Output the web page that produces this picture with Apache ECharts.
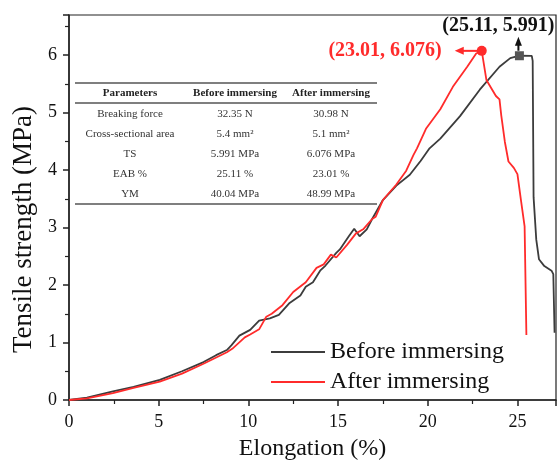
<!DOCTYPE html>
<html>
<head>
<meta charset="utf-8">
<script src="https://cdn.jsdelivr.net/npm/echarts@6/dist/echarts.min.js"></script>
<style>
  html, body { margin: 0; padding: 0; background: #fff; }
  #chart { width: 558px; height: 466px; }
</style>
</head>
<body>
<div id="chart"></div>
<script>
// Stress–strain curves of the film before and after immersion
const seriesNames = ['Before immersing', 'After immersing'];

// [elongation %, tensile strength MPa]
const beforeCurve = [
  [0, 0], [1, 0.04], [2.45, 0.15], [3.6, 0.23], [5.06, 0.35], [6.3, 0.5], [7.5, 0.66],
  [8.2, 0.78], [8.8, 0.87], [9.05, 0.95], [9.5, 1.12], [10.1, 1.22], [10.6, 1.38],
  [11.2, 1.42], [11.7, 1.48], [12.3, 1.69], [12.9, 1.82], [13.2, 1.97], [13.6, 2.05],
  [14.0, 2.25], [14.3, 2.34], [14.9, 2.56], [15.1, 2.62], [15.6, 2.85], [15.9, 2.98],
  [16.2, 2.85], [16.6, 2.97], [16.9, 3.15], [17.5, 3.48], [18.25, 3.73], [19.0, 3.92],
  [19.6, 4.16], [20.1, 4.38], [20.7, 4.55], [21.8, 4.94], [22.9, 5.4], [24.0, 5.8],
  [24.6, 5.95], [25.11, 5.991], [25.8, 5.99], [25.85, 5.9], [25.9, 3.53], [26.05, 2.79],
  [26.2, 2.45], [26.5, 2.33], [26.9, 2.25], [27.0, 2.19], [27.07, 1.17]
];
const afterCurve = [
  [0, 0], [1, 0.03], [2.45, 0.12], [3.6, 0.21], [5.06, 0.32], [6.3, 0.46], [7.5, 0.63],
  [8.8, 0.83], [9.1, 0.89], [9.8, 1.09], [10.1, 1.14], [10.6, 1.23], [11.0, 1.45],
  [11.3, 1.5], [11.9, 1.65], [12.5, 1.88], [13.2, 2.05], [13.8, 2.3], [14.2, 2.36],
  [14.6, 2.53], [14.9, 2.48], [15.5, 2.7], [16.0, 2.9], [16.4, 2.97], [16.9, 3.15],
  [17.1, 3.19], [17.5, 3.48], [18.25, 3.75], [18.8, 3.99], [19.2, 4.26], [19.4, 4.38],
  [19.9, 4.72], [20.7, 5.06], [21.4, 5.45], [22.2, 5.8], [22.7, 6.03], [23.01, 6.076],
  [23.27, 5.57], [23.8, 5.29], [24.0, 5.23], [24.1, 4.95], [24.3, 4.49], [24.5, 4.15],
  [24.8, 4.04], [25.0, 3.93], [25.2, 3.47], [25.4, 3.02], [25.5, 1.13]
];

// Peak points (elongation at break, tensile strength)
const peakBefore = [25.11, 5.991];
const peakAfter = [23.01, 6.076];

// Summary table
const tableHeader = ['Parameters', 'Before immersing', 'After immersing'];
const tableParams = ['Breaking force', 'Cross-sectional area', 'TS', 'EAB %', 'YM'];
const tableBefore = ['32.35 N', '5.4 mm\u00B2', '5.991 MPa', '25.11 %', '40.04 MPa'];
const tableAfter = ['30.98 N', '5.1 mm\u00B2', '6.076 MPa', '23.01 %', '48.99 MPa'];

const xTicks = [0, 5, 10, 15, 20, 25];
const yTicks = [0, 1, 2, 3, 4, 5, 6];

const SERIF = '"Liberation Serif", "Times New Roman", serif';
const BLACK = '#3c3c3c';
const RED = '#ff2b2b';

const chart = echarts.init(document.getElementById('chart'), null, { renderer: 'canvas' });

const axisCommon = {
  axisLine: { show: true, lineStyle: { color: '#222', width: 1.5 } },
  axisTick: { show: true, inside: false, length: 6, lineStyle: { color: '#222', width: 1.5 } },
  minorTick: { show: true, splitNumber: 2, length: 4, lineStyle: { color: '#222', width: 1.2 } },
  splitLine: { show: false },
  axisLabel: { color: '#111', fontFamily: SERIF, fontSize: 18, showMaxLabel: false },
  nameTextStyle: { color: '#111', fontFamily: SERIF, fontSize: 24 },
  nameLocation: 'middle'
};

chart.setOption({
  animation: false,
  backgroundColor: '#fff',
  grid: { left: 69, right: 2, top: 15, bottom: 59, show: true, borderColor: '#222', borderWidth: 1.2 },
  xAxis: Object.assign({}, axisCommon, {
    type: 'value', min: 0, max: 27.15, interval: 5,
    name: 'Elongation (%)', nameGap: 37,
    axisLabel: Object.assign({}, axisCommon.axisLabel, { margin: 13,
      formatter: v => xTicks.includes(v) ? String(v) : '' })
  }),
  yAxis: Object.assign({}, axisCommon, {
    type: 'value', min: 0, max: 6.7, interval: 1,
    name: 'Tensile strength (MPa)', nameGap: 29,
    nameTextStyle: { color: '#111', fontFamily: SERIF, fontSize: 27, padding: [0, 44, 0, 0] },
    axisLabel: Object.assign({}, axisCommon.axisLabel, { margin: 12,
      formatter: v => yTicks.includes(v) ? String(v) : '' })
  }),
  legend: {
    orient: 'vertical', left: 266, top: 335,
    itemWidth: 54, itemHeight: 14, itemGap: 6,
    icon: 'path://M0,6 L54,6 L54,8 L0,8 Z',
    textStyle: { fontFamily: SERIF, fontSize: 24, color: '#111', lineHeight: 24 },
    data: seriesNames
  },
  series: [
    {
      name: seriesNames[0], type: 'line', data: beforeCurve, showSymbol: false, symbol: 'none',
      lineStyle: { color: BLACK, width: 1.8 }, itemStyle: { color: BLACK }, z: 3,
      markPoint: {
        symbol: 'rect', symbolSize: 9, itemStyle: { color: '#555' }, label: { show: false },
        data: [{ coord: peakBefore }]
      }
    },
    {
      name: seriesNames[1], type: 'line', data: afterCurve, showSymbol: false, symbol: 'none',
      lineStyle: { color: RED, width: 1.8 }, itemStyle: { color: RED }, z: 4,
      markPoint: {
        symbol: 'circle', symbolSize: 10, itemStyle: { color: RED }, label: { show: false },
        data: [{ coord: peakAfter }]
      }
    }
  ]
});

// Table and peak annotations
function buildGraphics() {
  const g = [];
  const tLeft = 75, tRight = 377;
  const colX = [130, 235, 331];
  const lineStyle = { stroke: '#555', lineWidth: 1.5 };
  g.push({ type: 'line', shape: { x1: tLeft, y1: 83, x2: tRight, y2: 83 }, style: lineStyle });
  g.push({ type: 'line', shape: { x1: tLeft, y1: 103, x2: tRight, y2: 103 }, style: lineStyle });
  g.push({ type: 'line', shape: { x1: tLeft, y1: 204, x2: tRight, y2: 204 }, style: lineStyle });
  tableHeader.forEach((h, i) => {
    g.push({ type: 'text', x: colX[i], y: 93,
      style: { text: h, font: 'bold 11px ' + SERIF, fill: '#222', align: 'center', verticalAlign: 'middle' } });
  });
  for (let r = 0; r < tableParams.length; r++) {
    const y = 114 + r * 20;
    [tableParams[r], tableBefore[r], tableAfter[r]].forEach((t, i) => {
      g.push({ type: 'text', x: colX[i], y: y,
        style: { text: t, font: '11px ' + SERIF, fill: '#333', align: 'center', verticalAlign: 'middle' } });
    });
  }

  const pa = chart.convertToPixel({ gridIndex: 0 }, peakAfter);
  const pb = chart.convertToPixel({ gridIndex: 0 }, peakBefore);

  // red label with arrow pointing left
  g.push({ type: 'line', shape: { x1: pa[0] - 4, y1: pa[1], x2: pa[0] - 20, y2: pa[1] },
    style: { stroke: RED, lineWidth: 2 } });
  g.push({ type: 'polygon', shape: { points: [[pa[0] - 27, pa[1]], [pa[0] - 18, pa[1] - 4], [pa[0] - 18, pa[1] + 4]] },
    style: { fill: RED } });
  g.push({ type: 'text', x: pa[0] - 40, y: pa[1],
    style: { text: '(' + peakAfter[0].toFixed(2) + ', ' + peakAfter[1].toFixed(3) + ')',
      font: 'bold 20px ' + SERIF, fill: RED, align: 'right', verticalAlign: 'middle' } });

  // black label with arrow pointing up
  g.push({ type: 'line', shape: { x1: pb[0] - 1, y1: pb[1] - 5, x2: pb[0] - 1, y2: pb[1] - 12 },
    style: { stroke: '#111', lineWidth: 2 } });
  g.push({ type: 'polygon', shape: { points: [[pb[0] - 1, pb[1] - 19], [pb[0] - 4.5, pb[1] - 10], [pb[0] + 2.5, pb[1] - 10]] },
    style: { fill: '#111' } });
  g.push({ type: 'text', x: pb[0] - 21, y: pb[1] - 30,
    style: { text: '(' + peakBefore[0].toFixed(2) + ', ' + peakBefore[1].toFixed(3) + ')',
      font: 'bold 20px ' + SERIF, fill: '#111', align: 'center', verticalAlign: 'middle' } });
  return g;
}

chart.setOption({ graphic: { elements: buildGraphics() } });
</script>
</body>
</html>
